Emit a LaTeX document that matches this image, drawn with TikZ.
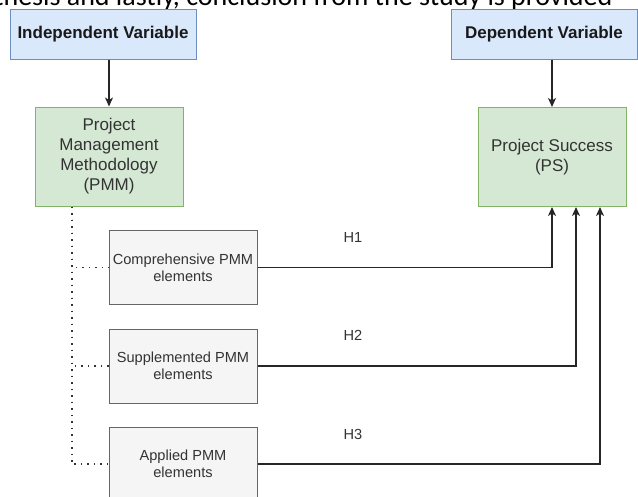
\documentclass[tikz,border=0pt]{standalone}
\usepackage{fontspec}
\setmainfont{Liberation Sans}
\newfontfamily\calfont{Carlito}
\usepackage{tikz}
\usetikzlibrary{arrows.meta,positioning,calc}
\definecolor{varfill}{HTML}{DAE8FC}
\definecolor{varline}{HTML}{6C8EBF}
\definecolor{conFill}{HTML}{D5E8D4}
\definecolor{conLine}{HTML}{82B366}
\definecolor{elFill}{HTML}{F5F5F5}
\definecolor{elLine}{HTML}{666666}
\definecolor{txt}{HTML}{333333}

\begin{document}
\begin{tikzpicture}[x=1pt,y=-1pt,>={Stealth[length=9pt,width=8pt,inset=2.5pt]},
   var/.style={draw=varline,fill=varfill,line width=1pt,minimum width=186pt,minimum height=50pt,
               inner sep=0pt,font=\fontsize{17}{20}\selectfont\bfseries,text=black!90},
   con/.style={draw=conLine,fill=conFill,line width=1pt,minimum width=148pt,minimum height=99pt,
               inner sep=0pt,align=center,font=\fontsize{17}{20}\selectfont,text=txt},
   elem/.style={draw=elLine,fill=elFill,line width=1pt,minimum width=148pt,minimum height=74pt,
               inner sep=0pt,align=center,font=\fontsize{14.6}{17}\selectfont,text=txt},
   hyp/.style={font=\fontsize{14.6}{17}\selectfont,text=txt},
   link/.style={draw=black!85,line width=1.3pt},
   tie/.style={draw=black!80,line width=1.5pt,dash pattern=on 1.5pt off 5pt}]
  \useasboundingbox (0,0) rectangle (638,496);
  \clip (0,0) rectangle (638,496);
  % cut-off line of the surrounding text
  \node[anchor=base west,inner sep=0pt,font=\calfont\fontsize{28}{32}\selectfont] (prose) at (-6,5)
     {thesis and lastly, conclusion from the study is provided};
  % variable headers
  \node[var] (iv) at (103,34) {Independent Variable};
  \node[var] (dv) at (544,34) {Dependent Variable};
  % constructs
  \node[con] (pmm) at (109,156.5) {Project\\Management\\Methodology\\(PMM)};
  \node[con] (ps) at (552,157) {Project Success\\(PS)};
  % PMM elements
  \node[elem] (comp) at (183,267.5) {Comprehensive PMM\\elements};
  \node[elem] (supp) at (183,366) {Supplemented PMM\\elements};
  \node[elem] (appl) at (183,464) {Applied PMM\\elements};
  % hypotheses
  \node[hyp] (h1) at (353,237) {H1};
  \node[hyp] (h2) at (353,335) {H2};
  \node[hyp] (h3) at (353,434) {H3};
  % header arrows
  \draw[link,->] (iv.south -| pmm.north) -- (pmm.north);
  \draw[link,->] (dv.south -| ps.north) -- (ps.north);
  % dotted ties from PMM to its elements
  \coordinate (tap) at ($(pmm.south west)!0.25!(pmm.south east)$);
  \draw[tie] (tap) |- (comp.west);
  \draw[tie] (tap) |- (supp.west);
  \draw[tie] (tap) |- (appl.west);
  % hypothesised effects
  \draw[link,->] (comp.east) -| (ps.south);
  \draw[link,->] (supp.east) -| ([xshift=24pt]ps.south);
  \draw[link,->] (appl.east) -| ([xshift=48pt]ps.south);
\end{tikzpicture}
\end{document}
